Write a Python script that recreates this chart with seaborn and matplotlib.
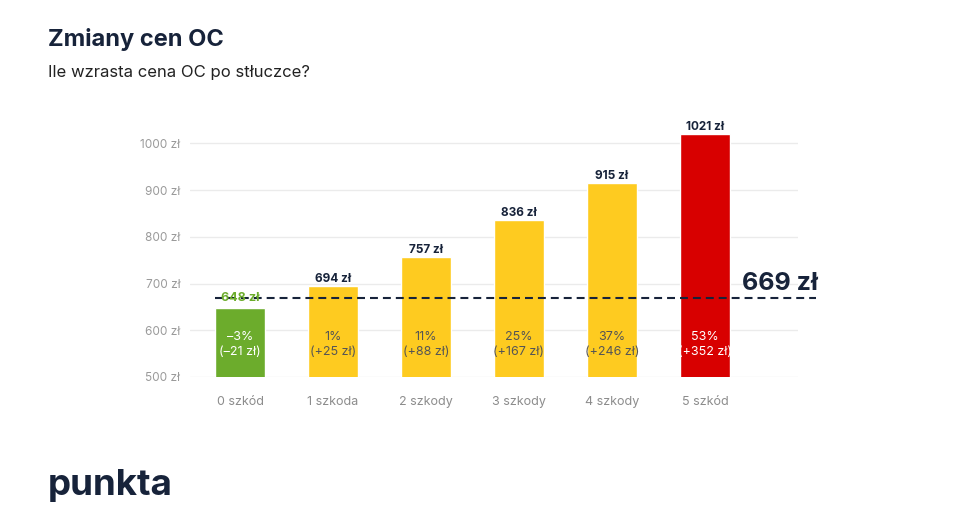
import matplotlib.pyplot as plt
import seaborn as sns
import pandas as pd

# dane z wykresu
kategorie = ["0 szkód", "1 szkoda", "2 szkody", "3 szkody", "4 szkody", "5 szkód"]
ceny = [648, 694, 757, 836, 915, 1021]
procenty = [-3, 1, 11, 25, 37, 53]
roznice = [-21, 25, 88, 167, 246, 352]
srednia = 669
kolory = ["#6CAC2C", "#FECB20", "#FECB20", "#FECB20", "#FECB20", "#D80000"]
y_ticks = [500, 600, 700, 800, 900, 1000]

NAVY = "#17233A"

sns.set_theme(style="white")
plt.rcParams["font.family"] = ["Inter", "DejaVu Sans"]

df = pd.DataFrame({"kategoria": kategorie, "cena": ceny})

fig = plt.figure(figsize=(9.59, 5.05), dpi=100)
ax = fig.add_axes([0.198, 0.2535, 0.634, 0.518])

for t in y_ticks:
    ax.axhline(t, color="#EBEBEB", lw=1, zorder=0)

sns.barplot(data=df, x="kategoria", y="cena", hue="kategoria", palette=kolory,
            legend=False, width=0.54, saturation=1, ax=ax, zorder=2)

ax.set_ylim(500, 1060)
ax.set_xlim(-0.54, 6.0)
ax.set_yticks(y_ticks)
ax.set_yticklabels([f"{t} zł" for t in y_ticks])
ax.set_xlabel("")
ax.set_ylabel("")
ax.tick_params(axis="y", length=0, pad=7, labelsize=8.5, labelcolor="#9A9A9A")
ax.tick_params(axis="x", length=0, pad=14, labelsize=9, labelcolor="#8C8C8C")
sns.despine(ax=ax, left=True, bottom=True)

# linia sredniej
ax.plot([-0.27, 6.2], [srednia, srednia], color=NAVY, lw=1.5,
        dashes=(3.8, 2.4), clip_on=False, zorder=3)
ax.text(5.4, srednia + 7, f"{srednia} zł", ha="left", va="bottom",
        fontsize=18, fontweight="bold", color=NAVY)

for i, (c, p, r) in enumerate(zip(ceny, procenty, roznice)):
    if c < srednia:
        ax.text(i, srednia, f"{c} zł", ha="center", va="center", fontsize=9,
                fontweight="bold", color=kolory[i], zorder=4)
    else:
        ax.text(i, c + 2, f"{c} zł", ha="center", va="bottom", fontsize=8.5,
                fontweight="bold", color=NAVY, zorder=4)
    txt_col = "#555555" if kolory[i] == "#FECB20" else "white"
    znak = "+" if r > 0 else "–"
    pr = f"{p}%" if p >= 0 else f"–{abs(p)}%"
    ax.text(i, 569, f"{pr}\n({znak}{abs(r)} zł)", ha="center", va="center",
            fontsize=9, color=txt_col, linespacing=1.3, zorder=4)

fig.text(0.05, 0.922, "Zmiany cen OC", fontsize=17, fontweight="bold",
         color=NAVY, va="center")
fig.text(0.05, 0.857, "Ile wzrasta cena OC po stłuczce?", fontsize=12,
         color="#222222", va="center")
fig.text(0.05, 0.038, "punkta", fontsize=26.5, fontweight="bold", color=NAVY,
         va="center")

fig.savefig("out.png", dpi=100)
